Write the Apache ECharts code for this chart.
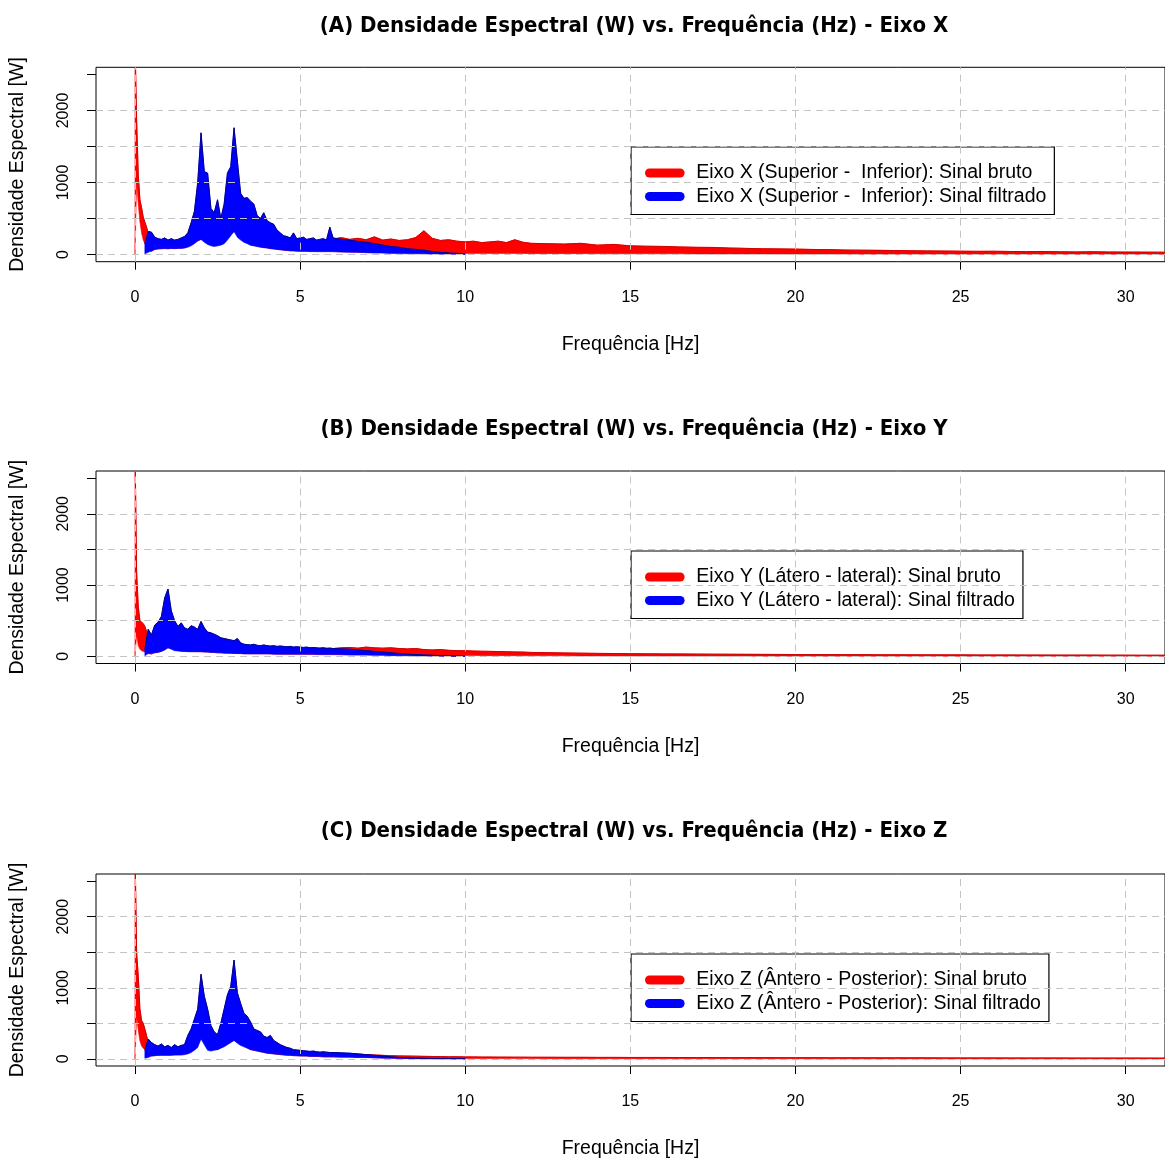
<!DOCTYPE html>
<html><head><meta charset="utf-8">
<script src="https://cdn.jsdelivr.net/npm/echarts@6/dist/echarts.min.js"></script>
<style>html,body{margin:0;padding:0;background:#fff}#c{width:1165px;height:1160px}</style>
</head><body><div id="c"></div>
<script>
const xTicks = [0, 5, 10, 15, 20, 25, 30];
const yTicks = [0, 500, 1000, 1500, 2000, 2500];
const yLabels = [0, 1000, 2000];
const yGrid = [0, 500, 1000, 1500, 2000];

const titles = [
  '(A) Densidade Espectral (W) vs. Frequência (Hz) - Eixo X',
  '(B) Densidade Espectral (W) vs. Frequência (Hz) - Eixo Y',
  '(C) Densidade Espectral (W) vs. Frequência (Hz) - Eixo Z'
];
const legendRed = [
  'Eixo X (Superior -  Inferior): Sinal bruto',
  'Eixo Y (Látero - lateral): Sinal bruto',
  'Eixo Z (Ântero - Posterior): Sinal bruto'
];
const legendBlue = [
  'Eixo X (Superior -  Inferior): Sinal filtrado',
  'Eixo Y (Látero - lateral): Sinal filtrado',
  'Eixo Z (Ântero - Posterior): Sinal filtrado'
];

// Frequencies of filtered-signal envelope samples (Hz)
const blueFreq = [0.3,0.4,0.5,0.6,0.7,0.8,0.9,1.0,1.1,1.2,1.3,1.4,1.5,1.6,1.7,1.8,1.9,2.0,2.1,2.2,
  2.3,2.4,2.5,2.6,2.7,2.8,2.9,3.0,3.1,3.2,3.3,3.4,3.5,3.6,3.7,3.8,3.9,4.0,4.1,4.2,
  4.3,4.4,4.5,4.6,4.7,4.8,4.9,5.0,5.1,5.2,5.3,5.4,5.5,5.6,5.7,5.8,5.9,6.0,
  6.25,6.5,6.75,7.0,7.25,7.5,7.75,8.0,8.25,8.5,8.75,9.0,9.25,9.5,9.75,10.0];

const blueHighA = [150,320,310,240,220,210,230,200,220,200,210,230,250,300,440,600,1000,1690,1150,1130,
  640,580,760,500,700,1130,1220,1760,1300,850,780,790,740,700,540,500,580,470,440,420,
  340,300,260,250,230,300,220,230,240,210,220,230,200,210,220,200,380,230,
  210,200,180,170,150,130,110,100,80,70,60,40,30,20,15,10];
const blueLowA = [10,30,50,70,80,80,85,80,85,80,85,85,90,100,120,150,190,210,170,140,
  120,110,120,130,150,200,260,320,240,200,170,150,130,120,110,100,95,90,80,75,
  70,65,60,55,50,50,45,45,45,45,40,40,40,40,40,40,40,40,
  35,30,30,25,20,20,15,15,10,10,10,5,5,3,2,0];

const blueHighB = [100,380,300,440,480,560,820,945,640,500,420,470,400,380,430,410,380,490,400,340,
  330,310,290,260,250,240,230,220,250,190,170,165,160,170,155,150,160,150,145,150,
  140,145,140,135,140,130,135,130,125,130,120,125,120,115,120,110,115,110,
  105,100,90,80,70,60,50,40,30,25,20,15,10,8,5,3];
const blueLowB = [10,40,45,50,55,70,90,120,100,80,75,70,70,65,65,65,65,65,60,60,
  55,55,50,50,45,45,45,40,40,40,35,35,35,35,35,35,35,35,35,30,
  30,30,30,30,30,30,30,30,30,30,30,30,25,25,25,25,25,25,
  25,20,20,20,15,15,10,10,8,5,5,3,2,0,0,0];

const blueHighC = [120,280,230,200,180,210,170,190,160,200,170,190,200,330,420,560,700,1190,880,700,
  470,380,340,500,700,900,1020,1390,930,780,640,600,520,420,400,380,320,300,330,260,
  230,200,180,160,150,130,125,120,115,110,105,110,100,95,100,95,90,90,
  85,80,70,60,50,40,30,20,15,10,8,5,4,3,2,1];
const blueLowC = [10,20,40,45,50,50,50,50,50,55,55,55,60,70,90,120,160,280,200,120,
  110,120,130,150,170,200,230,260,220,190,170,150,130,120,110,100,90,80,75,70,
  65,60,55,50,50,45,45,40,40,40,35,35,35,35,30,30,30,30,
  25,25,20,20,15,10,8,5,4,3,2,1,1,0,0,0];

// Frequencies of raw-signal envelope samples (Hz)
const redFreq = [0,0.05,0.1,0.15,0.2,0.25,0.3,0.35,0.4,0.45,0.5,
  0.6,0.8,1,
  1.5,2,2.5,3,3.5,4,4.5,5,5.5,
  5.75,6,6.25,6.5,6.75,7,7.25,7.5,7.75,8,8.25,8.5,8.75,9,9.25,9.5,9.75,10,10.25,10.5,10.75,11,11.25,11.5,11.75,12,
  12.5,13,13.5,14,14.5,15,15.5,16,16.5,17,17.5,18,18.5,19,19.5,20,
  20.5,21,21.5,22,22.5,23,23.5,24,24.5,25,25.5,26,26.5,27,27.5,28,28.5,29,29.5,30,30.5,31,31.5];

const redHighA = [3000,1870,1100,760,650,520,450,380,300,210,150,
  100,120,120,
  140,300,200,400,200,150,150,150,190,
  200,215,235,210,225,205,245,200,215,195,205,235,330,225,195,205,185,175,185,165,175,185,165,205,170,155,
  150,145,155,130,140,120,115,112,105,100,98,90,85,80,78,75,
  70,68,62,60,58,55,52,50,48,46,44,45,42,40,42,38,36,38,35,34,33,32,30];
const redLowA = [0,1000,700,450,300,200,150,110,80,50,40,
  70,80,80,
  90,210,120,320,130,90,60,45,40,
  40,40,35,35,30,30,30,25,25,25,25,20,20,20,20,20,20,15,15,15,15,15,15,15,15,12,
  12,12,12,10,10,10,10,10,10,8,8,8,8,8,6,6,
  6,6,6,5,5,5,5,5,5,4,4,4,4,4,4,3,3,3,3,3,3,3,3];

const redHighB = [3000,1180,700,500,480,460,420,350,250,180,150,
  100,120,200,
  150,150,140,120,110,110,105,100,110,
  115,110,120,125,115,130,120,115,120,110,105,110,95,90,95,85,80,80,75,72,70,68,65,62,60,55,
  52,48,45,42,40,38,36,35,34,32,31,30,29,28,27,26,
  25,25,24,24,23,23,22,22,21,21,20,20,20,19,19,18,18,18,17,17,16,16,15];
const redLowB = [0,300,150,100,80,70,60,50,40,35,30,
  50,70,120,
  70,65,50,40,35,35,30,30,25,
  25,25,22,22,20,20,20,20,18,18,18,15,15,15,15,12,12,12,12,10,10,10,10,10,8,8,
  8,8,6,6,6,5,5,5,5,4,4,4,4,3,3,3,
  3,3,3,3,3,3,3,3,2,2,2,2,2,2,2,2,2,2,2,2,2,2,2];

const redHighC = [3000,1500,1160,700,540,500,420,330,220,160,120,
  90,100,100,
  120,350,200,350,200,150,110,100,80,
  75,75,72,70,65,60,55,50,45,42,40,38,36,34,32,30,30,28,28,26,26,25,25,24,24,23,
  23,22,22,21,21,20,20,20,19,19,19,18,18,18,17,17,
  17,16,16,16,15,15,15,15,14,14,14,14,13,13,13,13,12,12,12,12,12,11,11];
const redLowC = [0,600,400,250,180,150,130,100,70,50,40,
  45,50,50,
  60,280,130,260,130,80,55,40,35,
  25,25,22,22,20,18,16,14,12,10,10,8,8,8,6,6,6,5,5,5,5,4,4,4,4,4,
  3,3,3,3,3,3,3,3,3,3,3,3,3,3,3,3,
  2,2,2,2,2,2,2,2,2,2,2,2,2,2,2,2,2,2,2,2,2,2,2];

const panels = [
  {top: 67.3, height: 194.4, titleTop: 10, legendTop: 147,
   bh: blueHighA, bl: blueLowA, rh: redHighA, rl: redLowA},
  {top: 471, height: 192.5, titleTop: 413, legendTop: 551,
   bh: blueHighB, bl: blueLowB, rh: redHighB, rl: redLowB},
  {top: 874, height: 193.3, titleTop: 815, legendTop: 954,
   bh: blueHighC, bl: blueLowC, rh: redHighC, rl: redLowC}
];

const FONT = "'Liberation Sans', Arial, sans-serif";
const TITLE_FONT = "'Liberation Sans Narrow', 'DejaVu Sans Condensed', 'Liberation Sans', sans-serif";

// one polygon per series: upper envelope forward, lower envelope back
function bandRenderer(fill, edge) {
  return function (params, api) {
    if (params.dataIndexInside !== 0) return null;
    const n = params.dataInsideLength;
    const upper = [], lower = [];
    for (let k = 0; k < n; k++) {
      upper.push(api.coord([api.value(0, k), api.value(2, k)]));
      lower.push(api.coord([api.value(0, k), api.value(1, k)]));
    }
    const poly = upper.concat(lower.slice().reverse());
    return {
      type: 'group',
      children: [
        {type: 'polygon', shape: {points: poly}, style: {fill: fill, stroke: fill, lineWidth: 0.6}},
        {type: 'polyline', shape: {points: upper}, style: {stroke: edge, lineWidth: 1, fill: null}}
      ]
    };
  };
}

const option = {
  animation: false,
  backgroundColor: '#ffffff',
  title: [], legend: [], grid: [], xAxis: [], yAxis: [], series: []
};

const capsule = 'path://M5,0 L39,0 A5,5 0 0 1 39,10 L5,10 A5,5 0 0 1 5,0 Z';

panels.forEach((p, i) => {
  option.title.push({
    text: titles[i], left: 629, top: p.titleTop, textAlign: 'center',
    textStyle: {fontFamily: TITLE_FONT, fontWeight: 'bold', fontSize: 22, color: '#000'}
  });
  option.legend.push({
    left: 631, top: p.legendTop, orient: 'vertical',
    backgroundColor: '#fff', borderColor: '#000', borderWidth: 1.2,
    padding: [16, 8, 8, 14], itemGap: 3.5, itemWidth: 43, itemHeight: 9,
    icon: capsule, selectedMode: false,
    textStyle: {fontFamily: FONT, fontSize: 19.5, color: '#000', lineHeight: 19.5, padding: [0, 0, 0, 5]},
    data: [
      {name: legendRed[i], itemStyle: {color: '#ff0000'}},
      {name: legendBlue[i], itemStyle: {color: '#0000ff'}}
    ]
  });
  option.grid.push({left: 96, top: p.top, width: 1070, height: p.height,
    show: true, borderColor: '#000', borderWidth: 1, backgroundColor: 'transparent'});
  option.xAxis.push({
    type: 'value', gridIndex: i, min: -1.18, max: 31.19,
    name: 'Frequência [Hz]', nameLocation: 'middle', nameGap: 73,
    nameTextStyle: {fontFamily: FONT, fontSize: 19.5, color: '#000'},
    axisLine: {show: false, onZero: false},
    axisTick: {show: true, customValues: xTicks, length: 8, lineStyle: {color: '#000', width: 1}},
    axisLabel: {customValues: xTicks, margin: 28, fontFamily: FONT, fontSize: 16, color: '#000',
      formatter: v => String(v)},
    splitLine: {show: false}
  });
  option.yAxis.push({
    type: 'value', gridIndex: i, min: -100, max: 2600,
    name: 'Densidade Espectral [W]', nameLocation: 'middle', nameGap: 68, nameRotate: 90,
    nameTextStyle: {fontFamily: FONT, fontSize: 19.5, color: '#000'},
    axisLine: {show: false, onZero: false},
    axisTick: {show: true, customValues: yTicks, length: 9, lineStyle: {color: '#000', width: 1}},
    axisLabel: {customValues: yLabels, rotate: 90, margin: 24, fontFamily: FONT, fontSize: 16, color: '#000',
      formatter: v => String(v)},
    splitLine: {show: false}
  });
  option.series.push(
    {type: 'custom', name: legendRed[i], xAxisIndex: i, yAxisIndex: i, clip: true, silent: true, z: 2,
     itemStyle: {color: '#ff0000'},
     encode: {x: 0, y: [1, 2]},
     renderItem: bandRenderer('#ff0000', '#d00000'),
     data: redFreq.map((f, k) => [f, p.rl[k], p.rh[k]])},
    {type: 'custom', name: legendBlue[i], xAxisIndex: i, yAxisIndex: i, clip: true, silent: true, z: 2,
     itemStyle: {color: '#0000ff'},
     encode: {x: 0, y: [1, 2]},
     renderItem: bandRenderer('#0000ff', '#00008c'),
     data: blueFreq.map((f, k) => [f, p.bl[k], p.bh[k]])},
    {type: 'line', name: 'grid' + i, xAxisIndex: i, yAxisIndex: i, data: [], z: 3, silent: true,
     markLine: {silent: true, symbol: 'none', animation: false, label: {show: false},
       lineStyle: {type: [7, 5], color: '#c4c4c4', width: 1},
       data: yGrid.map(v => ({yAxis: v})).concat(xTicks.map(v => ({xAxis: v})))}}
  );
});

const chart = echarts.init(document.getElementById('c'), null, {renderer: 'canvas'});
chart.setOption(option);
</script></body></html>
